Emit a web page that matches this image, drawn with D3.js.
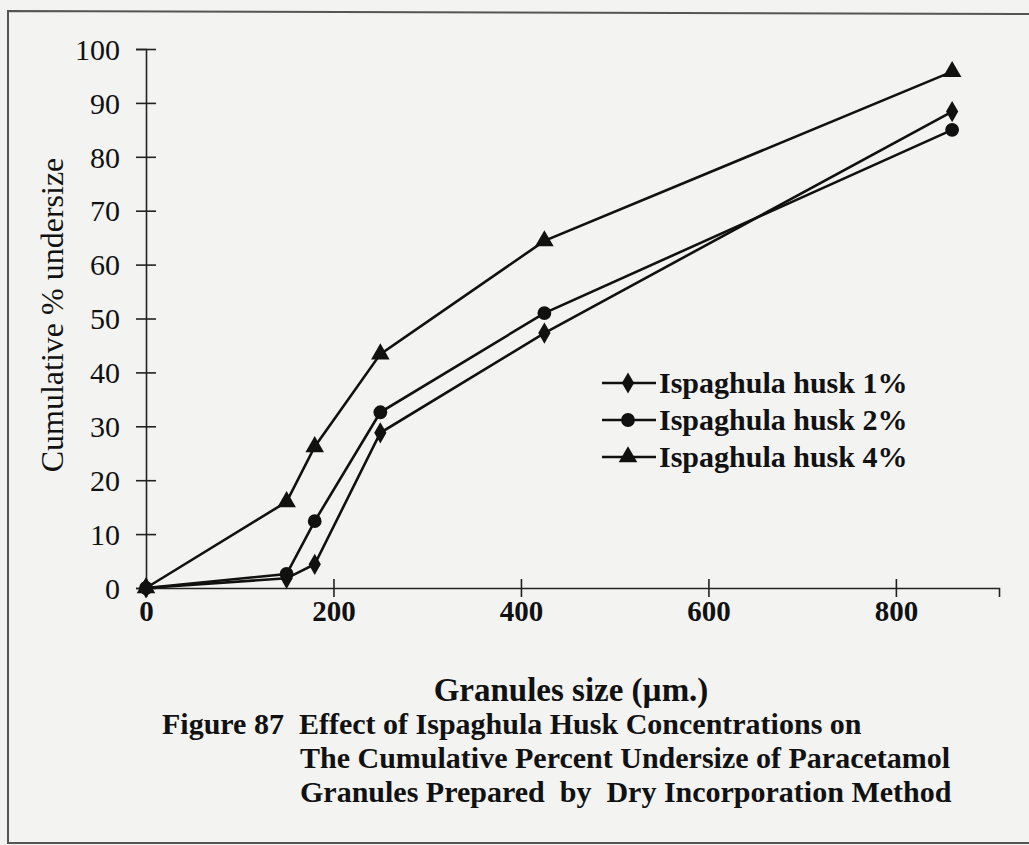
<!DOCTYPE html>
<html>
<head>
<meta charset="utf-8">
<script src="https://cdn.jsdelivr.net/npm/d3@7"></script>
<style>
  body { margin: 0; background: #f3f3f1; }
  text { font-family: "Liberation Serif", "DejaVu Serif", serif; fill: #111; white-space: pre; }
</style>
</head>
<body>
<div id="chart"></div>
<script>
// data
var sizes = [0, 150, 180, 250, 425, 860];
var husk1 = [0, 1.8, 4.4, 28.8, 47.3, 88.4];
var husk2 = [0, 2.6, 12.4, 32.6, 51.0, 85.0];
var husk4 = [0, 16.0, 26.2, 43.4, 64.4, 95.8];
var seriesNames = ["Ispaghula husk 1%", "Ispaghula husk 2%", "Ispaghula husk 4%"];
var xTicks = [0, 200, 400, 600, 800];
var yTicks = [0, 10, 20, 30, 40, 50, 60, 70, 80, 90, 100];

// set the dimensions and margins of the graph
var margin = {top: 49, right: 30, bottom: 257, left: 146},
    width = 1029 - margin.left - margin.right,
    height = 845 - margin.top - margin.bottom;

var root = d3.select("#chart")
  .append("svg")
    .attr("width", 1029)
    .attr("height", 845);

// scanned page frame
root.append("path")
  .attr("d", "M1029,14 L8,11 L8,843 L1029,843")
  .attr("fill", "none")
  .attr("stroke", "#555")
  .attr("stroke-width", 2);

var svg = root.append("g")
  .attr("transform", "translate(" + margin.left + "," + margin.top + ")");

var x = d3.scaleLinear()
  .domain([0, 910])
  .range([0, 853]);

var y = d3.scaleLinear()
  .domain([0, 100])
  .range([height, 0]);

// X axis
var gx = svg.append("g")
  .attr("transform", "translate(0," + height + ")")
  .call(d3.axisBottom(x).tickValues(xTicks).tickSizeOuter(0).tickSize(9).tickPadding(0));
gx.selectAll("line").attr("y1", -9).attr("y2", 9);
gx.selectAll("text")
  .attr("y", 33)
  .attr("dy", 0)
  .style("font-size", "29px")
  .style("font-weight", "bold");

// Y axis
var gy = svg.append("g")
  .call(d3.axisLeft(y).tickValues(yTicks).tickSizeOuter(0).tickSize(10).tickPadding(0));
gy.selectAll("line").attr("x1", -10).attr("x2", 10);
gy.selectAll("text")
  .attr("x", -26)
  .attr("dy", "0.34em")
  .style("font-size", "30px");

svg.selectAll(".domain, .tick line")
  .attr("stroke", "#222")
  .attr("stroke-width", 1.6);

// lines + markers
var data = [husk1, husk2, husk4].map(function(vals, i) {
  return { name: seriesNames[i], values: vals.map(function(v, j) { return {x: sizes[j], y: v}; }) };
});
var symbols = [d3.symbolDiamond, d3.symbolCircle, d3.symbolTriangle];
var symSize = [130, 150, 150];

var line = d3.line()
  .x(function(d) { return x(d.x); })
  .y(function(d) { return y(d.y); });

data.forEach(function(s, i) {
  svg.append("path")
    .datum(s.values)
    .attr("d", line)
    .attr("fill", "none")
    .attr("stroke", "#111")
    .attr("stroke-width", 2.6);
  svg.selectAll(".m" + i)
    .data(s.values)
    .enter()
    .append("path")
      .attr("class", "m" + i)
      .attr("transform", function(d) { return "translate(" + x(d.x) + "," + y(d.y) + ")"; })
      .attr("d", d3.symbol().type(symbols[i]).size(symSize[i]))
      .attr("fill", "#111");
});

// legend
var legend = svg.append("g")
  .attr("transform", "translate(456,334)");
data.forEach(function(s, i) {
  var g = legend.append("g").attr("transform", "translate(0," + (i * 37) + ")");
  g.append("line").attr("x1", 0).attr("x2", 54).attr("stroke", "#111").attr("stroke-width", 2.4);
  g.append("path")
    .attr("transform", "translate(26,0)")
    .attr("d", d3.symbol().type(symbols[i]).size(symSize[i]))
    .attr("fill", "#111");
  g.append("text")
    .attr("x", 57)
    .attr("dy", "0.34em")
    .style("font-size", "30px")
    .style("font-weight", "bold")
    .text(s.name);
});

// axis titles
root.append("text")
  .attr("transform", "translate(63,315) rotate(-90)")
  .attr("text-anchor", "middle")
  .style("font-size", "32px")
  .text("Cumulative % undersize");

root.append("text")
  .attr("x", 571)
  .attr("y", 701)
  .attr("text-anchor", "middle")
  .style("font-size", "33px")
  .style("font-weight", "bold")
  .text("Granules size (\u00b5m.)");

// caption
var caption = [
  {x: 162, y: 734, t: "Figure 87  Effect of Ispaghula Husk Concentrations on"},
  {x: 300, y: 768, t: "The Cumulative Percent Undersize of Paracetamol"},
  {x: 300, y: 802, t: "Granules Prepared  by  Dry Incorporation Method"}
];
root.selectAll(".cap")
  .data(caption)
  .enter()
  .append("text")
    .attr("class", "cap")
    .attr("x", function(d) { return d.x; })
    .attr("y", function(d) { return d.y; })
    .style("font-size", "30px")
    .style("font-weight", "bold")
    .text(function(d) { return d.t; });
</script>
</body>
</html>
